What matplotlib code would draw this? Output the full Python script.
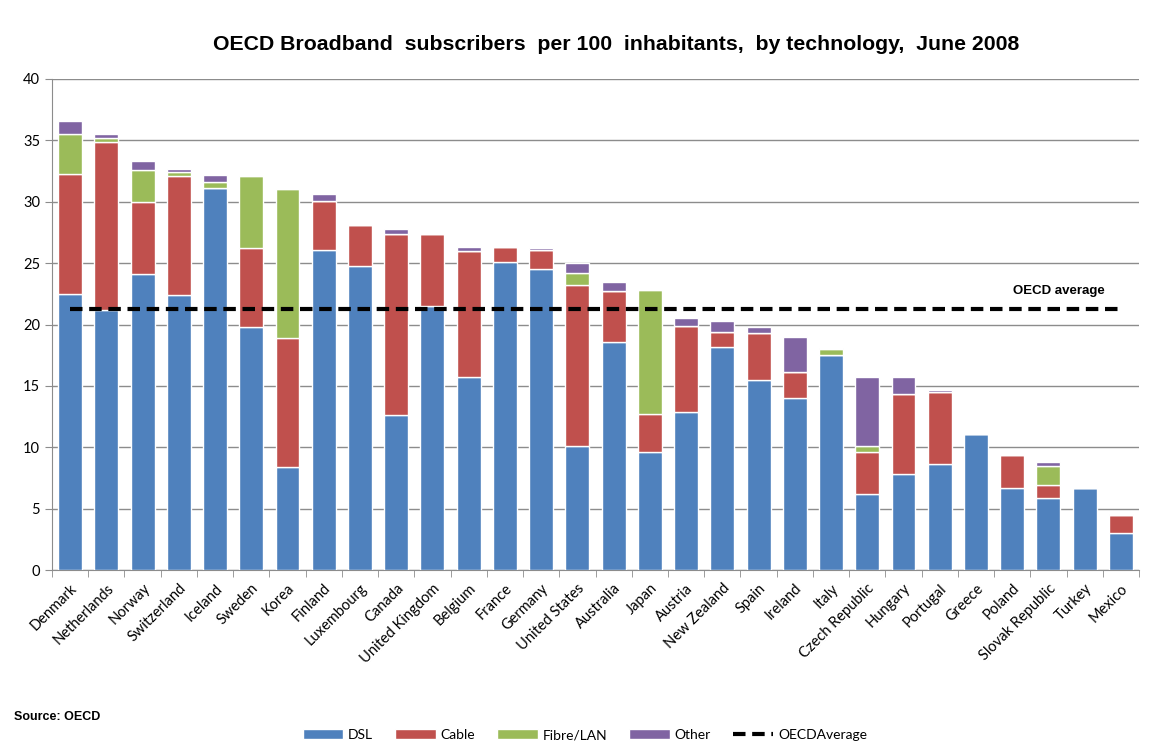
import matplotlib
matplotlib.use("Agg")
import matplotlib.pyplot as plt
import numpy as np
from matplotlib.ticker import FixedLocator

countries = ["Denmark", "Netherlands", "Norway", "Switzerland", "Iceland", "Sweden",
             "Korea", "Finland", "Luxembourg", "Canada", "United Kingdom", "Belgium",
             "France", "Germany", "United States", "Australia", "Japan", "Austria",
             "New Zealand", "Spain", "Ireland", "Italy", "Czech Republic", "Hungary",
             "Portugal", "Greece", "Poland", "Slovak Republic", "Turkey", "Mexico"]

dsl   = [22.5, 21.2, 24.1, 22.4, 31.1, 19.8, 8.4, 26.1, 24.8, 12.6, 21.5, 15.7, 25.1, 24.5,
         10.1, 18.6, 9.6, 12.9, 18.2, 15.5, 14.0, 17.5, 6.2, 7.8, 8.6, 11.1, 6.7, 5.9, 6.7, 3.0]
cable = [9.8, 13.7, 5.9, 9.7, 0.0, 6.4, 10.5, 4.0, 3.3, 14.8, 5.9, 10.3, 1.2, 1.6,
         13.1, 4.1, 3.1, 7.0, 1.2, 3.8, 2.1, 0.0, 3.4, 6.5, 5.9, 0.0, 2.7, 1.0, 0.0, 1.5]
fibre = [3.2, 0.3, 2.6, 0.3, 0.5, 5.9, 12.1, 0.0, 0.0, 0.0, 0.0, 0.0, 0.0, 0.0,
         1.0, 0.0, 10.1, 0.0, 0.0, 0.0, 0.0, 0.5, 0.5, 0.0, 0.0, 0.0, 0.0, 1.6, 0.0, 0.0]
other = [1.1, 0.3, 0.7, 0.3, 0.6, 0.0, 0.0, 0.5, 0.0, 0.4, 0.0, 0.3, 0.0, 0.1,
         0.8, 0.8, 0.0, 0.6, 0.9, 0.5, 2.9, 0.1, 5.6, 1.4, 0.2, 0.0, 0.0, 0.3, 0.0, 0.1]
oecd_avg = 21.25

series = [("DSL", dsl, "#4F81BD"), ("Cable", cable, "#C0504D"),
          ("Fibre/LAN", fibre, "#9BBB59"), ("Other", other, "#8064A2")]

plt.rcParams["font.family"] = ["Lato", "DejaVu Sans"]

fig = plt.figure(figsize=(11.63, 7.55), dpi=100)
ax = fig.add_axes([52 / 1163, 1 - 570 / 755, (1139 - 52) / 1163, (570 - 79) / 755])

x = np.arange(len(countries))
bottom = np.zeros(len(countries))
handles = []
for name, vals, col in series:
    vals = np.array(vals)
    b = ax.bar(x, vals, 0.66, bottom=bottom, color=col, edgecolor="white",
               linewidth=1.0, label=name, zorder=3)
    handles.append(b)
    bottom += vals

avg_line, = ax.plot([x[0], x[-1]], [oecd_avg, oecd_avg], color="black", lw=3,
                    ls=(0, (3, 1.6)), zorder=4, label="OECDAverage")
ax.text(27.3, oecd_avg + 1.0, "OECD average", fontsize=9.5, fontweight="bold",
        family=["Liberation Sans Narrow", "Liberation Sans"], ha="center", va="bottom")

ax.set_xlim(-0.5, len(countries) - 0.5)
ax.set_ylim(0, 40)
ax.set_yticks(range(0, 41, 5))
ax.yaxis.grid(True, color="#8c8c8c", lw=1, zorder=0)
ax.set_axisbelow(True)
ax.set_xticks(x)
ax.set_xticklabels(countries, rotation=45, ha="right", rotation_mode="anchor", fontsize=10.5)
ax.xaxis.set_minor_locator(FixedLocator(np.arange(-0.5, len(countries), 1)))
ax.tick_params(axis="x", which="major", length=0, pad=8)
ax.tick_params(axis="x", which="minor", length=5, color="#8c8c8c")
ax.tick_params(axis="y", length=5, color="#8c8c8c", labelsize=10.5)
for s in ["top", "right"]:
    ax.spines[s].set_visible(False)
for s in ["left", "bottom"]:
    ax.spines[s].set_color("#8c8c8c")

fig.text(616 / 1163, 1 - 45 / 755,
         "OECD Broadband  subscribers  per 100  inhabitants,  by technology,  June 2008",
         ha="center", va="center", fontsize=15.3, fontweight="bold", family="Liberation Sans")
fig.text(14 / 1163, 1 - 717 / 755, "Source: OECD", fontsize=9, fontweight="bold",
         family=["Liberation Sans Narrow", "Liberation Sans"], va="center")

fig.legend(handles + [avg_line], [s[0] for s in series] + ["OECDAverage"],
           loc="center", bbox_to_anchor=(585 / 1163, 1 - 735 / 755), ncol=5,
           frameon=False, fontsize=10, handlelength=2.9, handleheight=0.7,
           columnspacing=1.6, handletextpad=0.35)

fig.savefig("out.png", dpi=100)
